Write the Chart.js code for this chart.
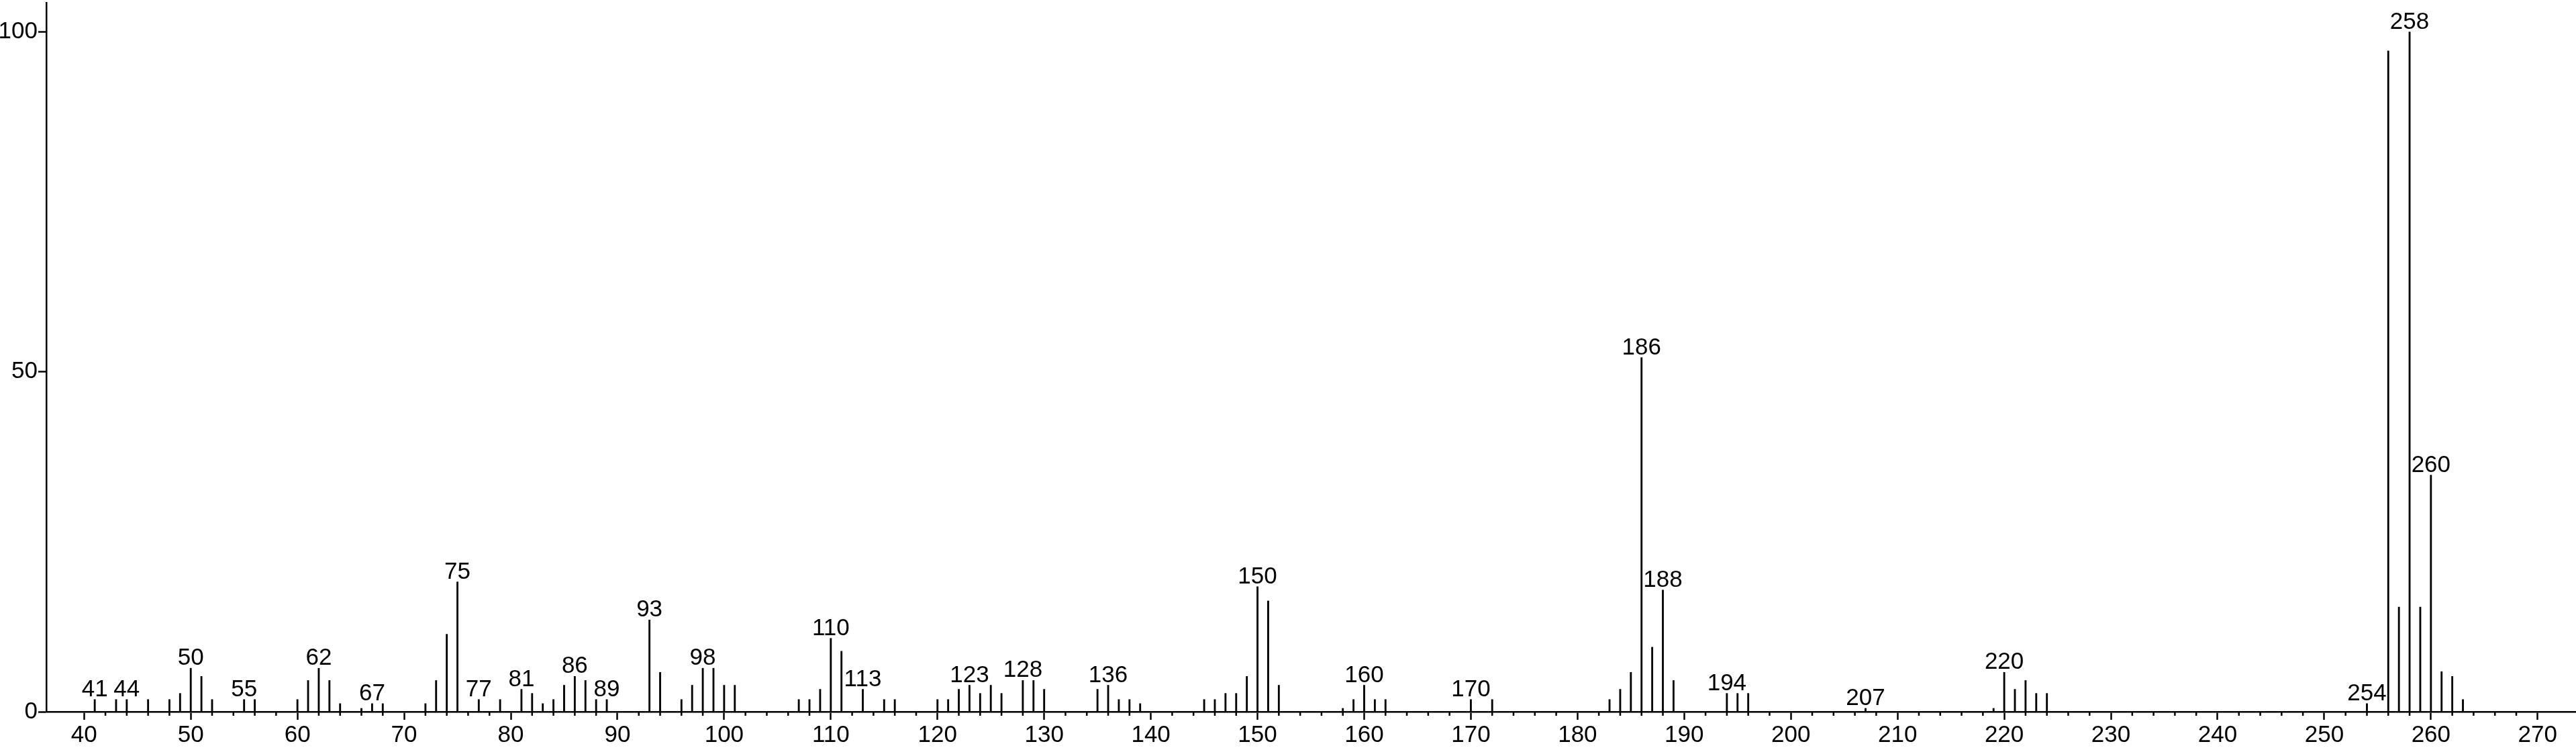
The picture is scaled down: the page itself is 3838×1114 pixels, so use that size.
<!DOCTYPE html>
<html>
<head>
<meta charset="utf-8">
<script src="https://cdn.jsdelivr.net/npm/chart.js@4/dist/chart.umd.min.js"></script>
<style>
  html, body { margin: 0; padding: 0; background: #fff; }
  #wrap { width: 3838px; height: 1114px; position: relative; }
</style>
</head>
<body>
<div id="wrap"><canvas id="spectrum"></canvas></div>
<script>
// m/z values of the peaks
const masses = [
    41, 43, 44, 46, 48, 49, 50, 51, 52, 55, 56,
    60, 61, 62, 63, 64, 66, 67, 68, 72, 73, 74, 75, 77, 79,
    81, 82, 83, 84, 85, 86, 87, 88, 89, 93, 94, 96, 97, 98, 99,
    100, 101, 107, 108, 109, 110, 111, 113, 115, 116,
    120, 121, 122, 123, 124, 125, 126, 128, 129, 130,
    135, 136, 137, 138, 139, 145, 146, 147, 148, 149, 150, 151, 152,
    158, 159, 160, 161, 162, 170, 172,
    183, 184, 185, 186, 187, 188, 189, 194, 195, 196,
    207, 219, 220, 221, 222, 223, 224,
    254, 256, 257, 258, 259, 260, 261, 262, 263
];

// relative intensities (%)
const intensities = [
    1.8, 1.8, 1.8, 1.8, 1.8, 2.7, 6.4, 5.2, 1.8, 1.8, 1.8,
    1.8, 4.6, 6.4, 4.6, 1.2, 0.5, 1.2, 1.2, 1.2, 4.6, 11.4, 19.1, 1.8, 1.8,
    3.3, 2.7, 1.2, 1.8, 3.9, 5.2, 4.6, 1.8, 1.8, 13.5, 5.8, 1.8, 3.9, 6.4, 6.4,
    3.9, 3.9, 1.8, 1.8, 3.3, 10.8, 8.9, 3.3, 1.8, 1.8,
    1.8, 1.8, 3.3, 3.9, 2.7, 3.9, 2.7, 4.6, 4.6, 3.3,
    3.3, 3.9, 1.8, 1.8, 1.2, 1.8, 1.8, 2.7, 2.7, 5.2, 18.4, 16.3, 3.9,
    0.5, 1.8, 3.9, 1.8, 1.8, 1.8, 1.8,
    1.8, 3.3, 5.8, 52.1, 9.5, 17.9, 4.6, 2.7, 2.7, 2.7,
    0.5, 0.5, 5.8, 3.3, 4.6, 2.7, 2.7,
    1.2, 97.2, 15.4, 100, 15.4, 34.8, 5.9, 5.2, 1.8
];

// peaks that carry an m/z label
const labeledPeaks = [41, 44, 50, 55, 62, 67, 75, 77, 81, 86, 89, 93, 98, 110, 113,
    123, 128, 136, 150, 160, 170, 186, 188, 194, 207, 220, 254, 258, 260];

// axis ticks
const xTickLabels = [40, 50, 60, 70, 80, 90, 100, 110, 120, 130, 140, 150, 160, 170,
    180, 190, 200, 210, 220, 230, 240, 250, 260, 270];
const yTickLabels = [0, 50, 100];

const FONT = { family: '"Liberation Sans", Arial, sans-serif', size: 35 };

//малые засечки по оси x
const minorTicks = {
    id: 'minorTicks',
    afterDraw(chart) {
        const ctx = chart.ctx;
        const x = chart.scales.x;
        const y0 = chart.chartArea.bottom;
        ctx.save();
        ctx.strokeStyle = '#000';
        ctx.lineWidth = 2.5;
        for (let v = 42; v <= 268; v += 2) {
            if (v % 10 === 0) continue;
            const px = x.getPixelForValue(v);
            ctx.beginPath();
            ctx.moveTo(px, y0);
            ctx.lineTo(px, y0 + 6);
            ctx.stroke();
        }
        ctx.restore();
    }
};

//подписи пиков
const peakLabels = {
    id: 'peakLabels',
    afterDatasetsDraw(chart) {
        const ctx = chart.ctx;
        const x = chart.scales.x;
        const y = chart.scales.y;
        ctx.save();
        ctx.fillStyle = '#000';
        ctx.font = FONT.size + 'px ' + FONT.family;
        ctx.textAlign = 'center';
        ctx.textBaseline = 'alphabetic';
        labeledPeaks.forEach(m => {
            const i = masses.indexOf(m);
            if (i < 0) return;
            const px = x.getPixelForValue(m);
            const py = y.getPixelForValue(intensities[i]);
            ctx.fillText(String(m), px, py - 5);
        });
        ctx.restore();
    }
};

const data = {
    datasets: [{
        data: masses.map((m, i) => ({ x: m, y: intensities[i] })),
        backgroundColor: '#000',
        borderWidth: 0,
        barThickness: 2.2
    }]
};

const config = {
    type: 'bar',
    data: data,
    options: {
        responsive: true,
        maintainAspectRatio: false,
        animation: false,
        devicePixelRatio: 1,
        layout: { padding: { top: 4, right: 0, left: 0, bottom: 0 } },
        plugins: {
            legend: { display: false },
            tooltip: { enabled: false }
        },
        scales: {
            x: {
                type: 'linear',
                min: 36.46,
                max: 273.6,
                offset: false,
                afterBuildTicks: s => { s.ticks = xTickLabels.map(v => ({ value: v })); },
                afterFit: s => { s.height = 54; },
                border: { display: true, color: '#000', width: 2.5 },
                grid: {
                    offset: false,
                    drawOnChartArea: false,
                    drawTicks: true,
                    tickLength: 12,
                    tickWidth: 2.5,
                    tickColor: '#000'
                },
                ticks: {
                    color: '#000',
                    font: FONT,
                    padding: 2,
                    maxRotation: 0,
                    autoSkip: false
                }
            },
            y: {
                min: 0,
                max: 104.3,
                afterBuildTicks: s => { s.ticks = yTickLabels.map(v => ({ value: v })); },
                afterFit: s => {
                    s.width = 69;
                    s.paddingTop = 0;
                    s.paddingBottom = 0;
                },
                border: { display: true, color: '#000', width: 2.5 },
                grid: {
                    drawOnChartArea: false,
                    drawTicks: true,
                    tickLength: 12,
                    tickWidth: 2.5,
                    tickColor: '#000'
                },
                ticks: {
                    color: '#000',
                    font: FONT,
                    padding: 1
                }
            }
        }
    },
    plugins: [minorTicks, peakLabels]
};

const myChart = new Chart(document.getElementById('spectrum'), config);
</script>
</body>
</html>
